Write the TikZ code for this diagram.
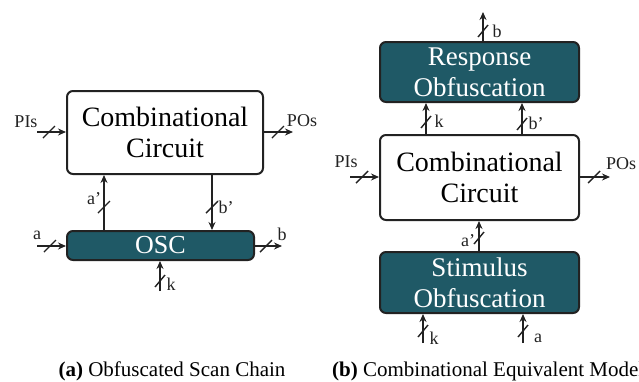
\documentclass[tikz,border=0pt]{standalone}
\usepackage{fontspec}
\setmainfont{Liberation Serif}
\usetikzlibrary{arrows.meta,calc}

\definecolor{obfteal}{HTML}{1F5966}
\definecolor{edge}{HTML}{222222}

\tikzset{
  blockbox/.style={draw=edge, line width=2pt, rounded corners=6pt, fill=white,
    align=center, font=\fontsize{27}{31}\selectfont, inner sep=0pt},
  obfbox/.style={blockbox, fill=obfteal, text=white},
  sig/.style={draw=edge, line width=1.6pt, -{Stealth[length=8pt,width=7pt]}},
  slashmark/.style={draw=edge, line width=1.4pt},
  lbl/.style={font=\fontsize{18}{20}\selectfont, inner sep=0pt, text=edge},
  capt/.style={font=\fontsize{21}{24}\selectfont, inner sep=0pt}
}

\begin{document}
\begin{tikzpicture}[x=1pt, y=-1pt]
\useasboundingbox (0,0) rectangle (639,381);

% ---------- (a) obfuscated scan chain ----------
\node[blockbox, minimum width=196pt, minimum height=83pt, font=\fontsize{28}{31}\selectfont] (cc1) at (165,132.5) {Combinational\\Circuit};
\node[obfbox, minimum width=187pt, minimum height=29pt, font=\fontsize{26}{28}\selectfont] (osc) at (160.5,245.5) {OSC};

\coordinate (pis1) at (37,132);
\coordinate (pos1) at (293,132);
\coordinate (ain) at (37,246);
\coordinate (bout) at (282,246);
\coordinate (kin1) at (160,291);
\coordinate (ap1) at (104,0);
\coordinate (bp1) at (212,0);

\draw[sig] (pis1) -- (pis1 -| cc1.west);
\draw[sig] (pos1 -| cc1.east) -- (pos1);
\draw[sig] (ap1 |- osc.north) -- (ap1 |- cc1.south);
\draw[sig] (bp1 |- cc1.south) -- (bp1 |- osc.north);
\draw[sig] (ain) -- (ain -| osc.west);
\draw[sig] (bout -| osc.east) -- (bout);
\draw[sig] (kin1) -- (kin1 |- osc.south);

\draw[slashmark] (49,132) ++(-6,6) -- ++(12,-12);
\draw[slashmark] (278,132) ++(-6,6) -- ++(12,-12);
\draw[slashmark] (104,207) ++(-6,6) -- ++(12,-12);
\draw[slashmark] (212,207) ++(-6,6) -- ++(12,-12);
\draw[slashmark] (50,246) ++(-6,6) -- ++(12,-12);
\draw[slashmark] (266,246) ++(-6,6) -- ++(12,-12);
\draw[slashmark] (160,281) ++(-5,6) -- ++(10,-12);

\node[lbl] (lpis1) at (26,122) {PIs};
\node[lbl] (lpos1) at (302,121) {POs};
\node[lbl] (lap1) at (94,199) {a'};
\node[lbl] (lbp1) at (226,207) {b'};
\node[lbl] (la1) at (37,235) {a};
\node[lbl] (lb1) at (282,234) {b};
\node[lbl] (lk1) at (171,284) {k};

% ---------- (b) combinational equivalent model ----------
\node[obfbox, minimum width=199pt, minimum height=60pt] (ro) at (479.5,72) {Response\\Obfuscation};
\node[blockbox, minimum width=199pt, minimum height=85pt, font=\fontsize{28}{31}\selectfont] (cc2) at (479.5,177.5) {Combinational\\Circuit};
\node[obfbox, minimum width=199pt, minimum height=61pt] (so) at (479.5,282.5) {Stimulus\\Obfuscation};

\coordinate (bouttop) at (483,12);
\coordinate (kmid) at (426,0);
\coordinate (bpmid) at (522,0);
\coordinate (pis2) at (350,177);
\coordinate (pos2) at (610,177);
\coordinate (apmid) at (479,0);
\coordinate (kbot) at (423,343);
\coordinate (abot) at (523,343);

\draw[sig] (bouttop |- ro.north) -- (bouttop);
\draw[sig] (kmid |- cc2.north) -- (kmid |- ro.south);
\draw[sig] (bpmid |- cc2.north) -- (bpmid |- ro.south);
\draw[sig] (pis2) -- (pis2 -| cc2.west);
\draw[sig] (pos2 -| cc2.east) -- (pos2);
\draw[sig] (apmid |- so.north) -- (apmid |- cc2.south);
\draw[sig] (kbot) -- (kbot |- so.south);
\draw[sig] (abot) -- (abot |- so.south);

\draw[slashmark] (483,31) ++(-5,6) -- ++(10,-12);
\draw[slashmark] (426,122) ++(-5,6) -- ++(10,-12);
\draw[slashmark] (522,124) ++(-5,6) -- ++(10,-12);
\draw[slashmark] (362,177) ++(-6,6) -- ++(12,-12);
\draw[slashmark] (594,177) ++(-6,6) -- ++(12,-12);
\draw[slashmark] (479,238) ++(-5,6) -- ++(10,-12);
\draw[slashmark] (423,331) ++(-5,6) -- ++(10,-12);
\draw[slashmark] (523,331) ++(-5,6) -- ++(10,-12);

\node[lbl] (lb2) at (497,31) {b};
\node[lbl] (lk2) at (439,121) {k};
\node[lbl] (lbp2) at (536,123) {b'};
\node[lbl] (lpis2) at (346,162) {PIs};
\node[lbl] (lpos2) at (621,164) {POs};
\node[lbl] (lap2) at (468,241) {a'};
\node[lbl] (lk3) at (434,338) {k};
\node[lbl] (la2) at (538,338) {a};

% ---------- captions ----------
\node[capt] (capa) at (172,371) {\textbf{(a)} Obfuscated Scan Chain};
\node[capt, anchor=west] (capb) at (332,371) {\textbf{(b)} Combinational Equivalent Model};
\end{tikzpicture}
\end{document}
